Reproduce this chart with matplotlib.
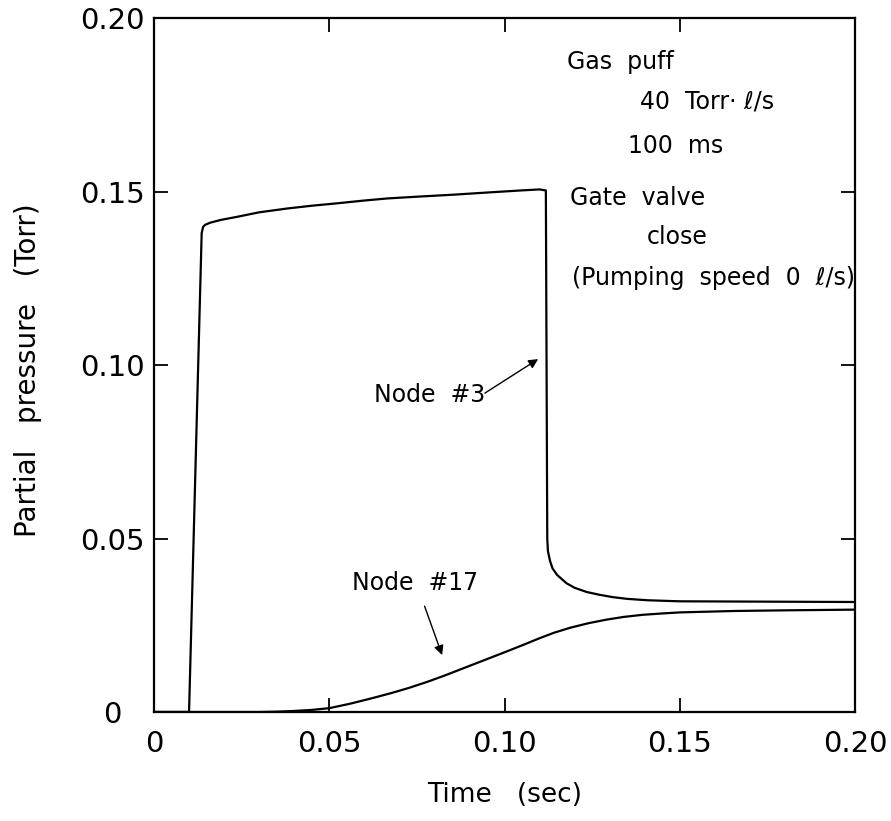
import matplotlib
matplotlib.use('Agg')
import matplotlib.pyplot as plt

# Node #3 (gas puff region) partial pressure
node3_t = [0.0, 0.0100, 0.0136, 0.0140, 0.0146, 0.0160, 0.0190, 0.0237, 0.0300,
           0.0380, 0.0450, 0.0523, 0.0600, 0.0666, 0.0750, 0.0857, 0.0950,
           0.1046, 0.1100, 0.1118, 0.1122, 0.1124, 0.1130, 0.1137, 0.1150,
           0.1177, 0.1200, 0.1234, 0.1270, 0.1309, 0.1350, 0.1409, 0.1500, 0.2000]
node3_p = [0.0, 0.0, 0.1380, 0.1398, 0.1404, 0.1410, 0.1418, 0.1427, 0.1440,
           0.1451, 0.1459, 0.1466, 0.1474, 0.1480, 0.1485, 0.1491, 0.1497,
           0.1503, 0.1506, 0.1503, 0.0500, 0.0463, 0.0435, 0.0414, 0.0395,
           0.0371, 0.0358, 0.0346, 0.0338, 0.0331, 0.0326, 0.0322, 0.0319, 0.0317]

# Node #17
node17_t = [0.0, 0.030, 0.035, 0.040, 0.045, 0.050, 0.056, 0.0623, 0.0675, 0.0726,
            0.078, 0.0829, 0.088, 0.0931, 0.100, 0.105, 0.1096, 0.114, 0.1188,
            0.124, 0.129, 0.134, 0.1393, 0.145, 0.150, 0.165, 0.180, 0.200]
node17_p = [0.0, 0.0, 0.0001, 0.0003, 0.0006, 0.0011, 0.0024, 0.0040, 0.0054, 0.0069,
            0.0087, 0.0105, 0.0125, 0.0145, 0.0172, 0.0192, 0.0211, 0.0228, 0.0243,
            0.0256, 0.0266, 0.0274, 0.0280, 0.0284, 0.0287, 0.0291, 0.0293, 0.0295]

x_ticks = [0.0, 0.05, 0.10, 0.15, 0.20]
x_labels = ['0', '0.05', '0.10', '0.15', '0.20']
y_ticks = [0.0, 0.05, 0.10, 0.15, 0.20]
y_labels = ['0', '0.05', '0.10', '0.15', '0.20']

dpi = 100
fig = plt.figure(figsize=(891 / dpi, 821 / dpi), dpi=dpi)
ax = fig.add_axes([154 / 891, 109 / 821, 701 / 891, 694 / 821])

ax.plot(node3_t, node3_p, color='black', lw=1.6)
ax.plot(node17_t, node17_p, color='black', lw=1.6)

ax.set_xlim(0, 0.2)
ax.set_ylim(0, 0.2)
ax.set_xticks(x_ticks)
ax.set_xticklabels(x_labels)
ax.set_yticks(y_ticks)
ax.set_yticklabels(y_labels)
ax.tick_params(direction='in', length=10, width=1.3, top=True, right=True,
               labelsize=21)
ax.tick_params(axis='x', pad=13)
# labels in the scan are centred under each other, not right-aligned
ax.tick_params(axis='y', pad=30)
for lbl in ax.get_yticklabels():
    lbl.set_horizontalalignment('center')
for s in ax.spines.values():
    s.set_linewidth(1.6)

fs = 17
ax.text(0.1178, 0.1873, 'Gas  puff', fontsize=fs, va='center', ha='left')
ax.text(0.1387, 0.1758, '40  Torr· ℓ/s', fontsize=fs, va='center', ha='left')
ax.text(0.1352, 0.1630, '100  ms', fontsize=fs, va='center', ha='left')
ax.text(0.1187, 0.1480, 'Gate  valve', fontsize=fs, va='center', ha='left')
ax.text(0.1407, 0.1370, 'close', fontsize=fs, va='center', ha='left')
ax.text(0.1193, 0.1250, '(Pumping  speed  0  ℓ/s)', fontsize=fs, va='center', ha='left')

arrow = dict(arrowstyle='-|>', lw=1.0, color='black', mutation_scale=14,
             shrinkA=0, shrinkB=0)
ax.text(0.0787, 0.0914, 'Node  #3', fontsize=fs, va='center', ha='center')
ax.annotate('', xy=(0.1096, 0.1017), xytext=(0.0944, 0.0919), arrowprops=arrow)
ax.text(0.0745, 0.0372, 'Node  #17', fontsize=fs, va='center', ha='center')
ax.annotate('', xy=(0.0822, 0.0164), xytext=(0.0772, 0.0305), arrowprops=arrow)

fig.text(505 / 891, 1 - 795 / 821, 'Time   (sec)', fontsize=19, ha='center', va='center')
fig.text(28 / 891, 1 - 370 / 821, 'Partial   pressure   (Torr)', fontsize=20,
         ha='center', va='center', rotation=90)

fig.savefig('out.png', dpi=dpi)
